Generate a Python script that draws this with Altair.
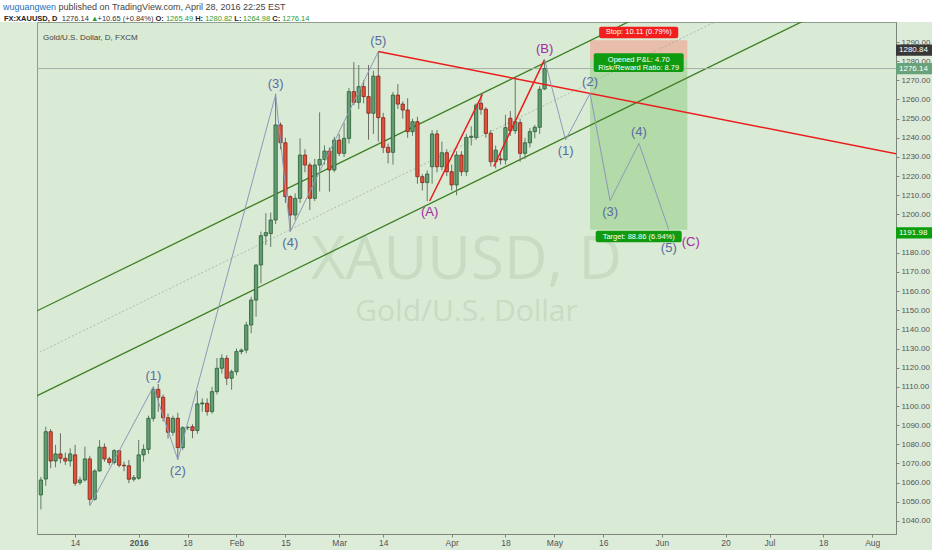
import altair as alt
import pandas as pd

FONT = "Liberation Sans"

# ---------------- daily FXCM bars, index 0 = Mon 14 Dec 2015 ----------------
bar_i = list(range(-7, 97))
bar_open = [1053.6, 1061.9, 1086.6, 1071.3, 1075.0, 1072.7, 1071.3,
            1074.5, 1060.0, 1061.4, 1072.4, 1051.3, 1066.1, 1078.5, 1072.4, 1070.5, 1076.7,
            1069.1, 1068.8, 1061.8, 1062.3, 1074.5, 1077.4, 1093.6, 1108.7, 1104.6, 1093.9,
            1086.3, 1093.6, 1078.3, 1088.7, 1089.2, 1087.2, 1101.1, 1101.4, 1097.1, 1107.5,
            1119.7, 1124.9, 1114.5, 1117.9, 1128.4, 1129.2, 1142.3, 1155.3, 1173.6, 1188.9,
            1190.0, 1197.1, 1246.7, 1237.4, 1209.3, 1199.7, 1208.4, 1231.0, 1225.8, 1208.4,
            1225.8, 1228.7, 1233.1, 1223.2, 1238.8, 1231.9, 1239.7, 1264.1, 1258.5, 1266.7,
            1261.5, 1252.8, 1272.2, 1250.5, 1235.0, 1232.4, 1262.3, 1257.6, 1254.5, 1243.2,
            1248.4, 1219.7, 1216.6, 1224.9, 1242.0, 1224.9, 1232.2, 1222.3, 1215.4, 1231.0,
            1222.3, 1240.2, 1240.2, 1258.0, 1254.9, 1242.3, 1227.5, 1229.0, 1228.4, 1250.2,
            1243.7, 1247.9, 1231.9, 1237.4, 1243.2, 1245.5, 1265.49]
bar_high = [1063.0, 1089.2, 1088.0, 1079.7, 1085.8, 1075.7, 1077.9,
            1079.7, 1063.1, 1078.8, 1074.0, 1067.0, 1082.3, 1080.5, 1073.5, 1077.5, 1077.1,
            1071.0, 1071.8, 1064.0, 1082.3, 1080.0, 1095.0, 1110.1, 1111.5, 1106.0, 1096.0,
            1095.0, 1096.5, 1089.5, 1089.5, 1090.5, 1108.0, 1104.0, 1104.0, 1110.0, 1125.0,
            1127.0, 1126.5, 1119.0, 1130.0, 1130.0, 1144.0, 1157.0, 1174.0, 1191.0, 1200.6,
            1201.0, 1263.0, 1248.0, 1240.0, 1210.0, 1211.0, 1239.7, 1234.0, 1227.0, 1229.0,
            1253.3, 1236.0, 1235.0, 1240.5, 1242.0, 1248.0, 1266.0, 1279.5, 1278.0, 1270.0,
            1278.0, 1275.0, 1284.9, 1253.0, 1237.0, 1264.0, 1268.0, 1259.0, 1260.6, 1250.0,
            1251.0, 1221.0, 1223.0, 1244.0, 1244.0, 1238.0, 1234.0, 1226.0, 1233.0, 1233.0,
            1242.0, 1246.0, 1258.0, 1262.7, 1256.0, 1244.0, 1236.0, 1233.0, 1252.0, 1254.0,
            1270.7, 1250.0, 1240.0, 1245.0, 1246.7, 1267.0, 1280.82]
bar_low = [1046.0, 1058.3, 1067.5, 1068.0, 1070.1, 1069.2, 1068.4,
           1058.3, 1058.8, 1060.5, 1048.4, 1050.6, 1065.8, 1071.0, 1069.0, 1069.5, 1068.0,
           1066.0, 1059.7, 1060.5, 1061.5, 1071.0, 1075.0, 1091.9, 1097.0, 1091.9, 1083.0,
           1084.5, 1072.0, 1077.1, 1087.5, 1083.2, 1085.5, 1097.0, 1095.0, 1096.0, 1106.0,
           1117.0, 1111.0, 1108.5, 1116.0, 1127.0, 1127.5, 1138.0, 1146.6, 1164.0, 1184.0,
           1183.0, 1195.0, 1234.0, 1206.0, 1191.0, 1197.0, 1206.0, 1222.0, 1202.3, 1207.0,
           1212.0, 1226.0, 1211.9, 1222.0, 1230.5, 1230.0, 1237.0, 1257.0, 1255.0, 1258.0,
           1239.0, 1242.0, 1238.0, 1232.0, 1226.6, 1226.0, 1255.0, 1250.0, 1240.0, 1241.0,
           1216.0, 1212.5, 1207.0, 1216.0, 1222.0, 1223.0, 1220.0, 1212.5, 1210.0, 1220.0,
           1220.0, 1236.0, 1239.0, 1252.0, 1240.0, 1225.0, 1224.0, 1226.0, 1226.0, 1241.0,
           1242.0, 1227.5, 1229.0, 1235.0, 1239.7, 1242.0, 1264.98]
bar_close = [1061.4, 1086.6, 1071.3, 1075.0, 1072.7, 1071.3, 1075.0,
             1059.7, 1061.4, 1072.4, 1051.3, 1066.1, 1078.5, 1072.4, 1070.5, 1076.7, 1069.1,
             1068.8, 1061.8, 1062.6, 1074.5, 1077.4, 1093.6, 1108.7, 1104.6, 1093.9, 1086.3,
             1093.6, 1078.3, 1088.7, 1088.9, 1087.2, 1101.1, 1101.6, 1097.1, 1107.5, 1119.7,
             1124.9, 1114.5, 1117.9, 1128.4, 1129.2, 1142.3, 1155.3, 1173.6, 1188.9, 1190.5,
             1197.1, 1246.7, 1237.4, 1209.3, 1199.7, 1208.4, 1231.0, 1225.8, 1208.4, 1225.8,
             1228.7, 1233.1, 1223.2, 1238.8, 1231.9, 1239.7, 1264.1, 1258.5, 1266.7, 1261.5,
             1252.8, 1272.2, 1250.5, 1235.0, 1232.4, 1262.3, 1257.6, 1254.5, 1243.2, 1248.4,
             1219.7, 1216.6, 1221.1, 1242.0, 1224.9, 1232.2, 1222.3, 1215.4, 1231.0, 1222.3,
             1240.2, 1240.8, 1257.1, 1254.9, 1242.3, 1227.5, 1233.6, 1228.5, 1245.3, 1243.7,
             1248.4, 1231.9, 1237.4, 1243.2, 1245.5, 1265.3, 1276.14]
prev_close = 1265.49

# date axis: bar index -> label
tick_i = [0, 13, 23, 33, 43, 54, 63, 77, 88, 98, 108, 120, 133, 142, 153, 163]
tick_txt = ["14", "2016", "18", "Feb", "15", "Mar", "14", "Apr", "18", "May",
            "16", "Jun", "20", "Jul", "18", "Aug"]
price_ticks = list(range(1040, 1300, 10))

# parallel channel (lower rail, upper rail, median) as end points
chan_i = [-8, 150]
chan_lower = [1105.1, 1302.3]
chan_upper = [1149.4, 1346.5]
chan_mid = [1127.2, 1324.4]

# descending resistance from the March high
res_i = [62, 170]
res_p = [1285.0, 1230.6]

# A-B legs
ab_i = [[72.5, 83.3], [85.6, 96.0]]
ab_p = [[1207.0, 1262.7], [1225.0, 1280.82]]

# impulse count Dec-Mar
wave_i = [3, 16, 21, 41, 44, 62]
wave_p = [1047.8, 1110.1, 1072.0, 1262.5, 1191.0, 1285.0]
wave_lbl = ["", "(1)", "(2)", "(3)", "(4)", "(5)"]
wave_up = [False, True, False, True, False, True]

# projected wave C (last point carries its own label below)
proj_i = [96, 100.3, 105.3, 109.4, 115.3, 121.4]
proj_p = [1280.82, 1238.9, 1263.2, 1207.2, 1237.1, 1191.98]
proj_lbl = ["(B)", "(1)", "(2)", "(3)", "(4)", ""]
proj_up = [True, False, True, False, True, False]

# corrective labels A and C, and the fifth of C
abc_i = [72.5, 121.4]
abc_p = [1207.0, 1191.98]
abc_lbl = ["(A)", "(C)"]
fifth_lbl = "(5)"

# short position
entry = 1280.84
stop = 1290.95
target = 1191.98
last = 1276.14
pos_i = [105.3, 125.2]

# ---------------- geometry ----------------
W, H = 859, 512
X_LO, X_HI = -6.77, 166.84
Y_LO, Y_HI = 1033.2, 1300.44
PPX = (X_HI - X_LO) / W   # index units per pixel
PPY = (Y_HI - Y_LO) / H   # price units per pixel

XS = alt.Scale(domain=[X_LO, X_HI], nice=False, zero=False)
YS = alt.Scale(domain=[Y_LO, Y_HI], nice=False, zero=False)

lbl_expr = "[" + ",".join("'%s'" % t for t in tick_txt) + "][indexof([" + \
    ",".join(str(v) for v in tick_i) + "], datum.value)]"

X_AXIS = alt.Axis(values=tick_i, labelExpr=lbl_expr, title=None, grid=False,
                  labelFont=FONT, labelFontSize=8.5, labelColor="#555555",
                  labelFontWeight=alt.ConditionalAxisLabelFontWeight(
                      condition={"test": "datum.value == 13", "value": "bold"}, value="normal"),
                  tickColor="#7d857d", tickSize=3, domainColor="#7d857d",
                  labelPadding=1, labelOverlap=False, labelFlush=False)
# the 1190 label sits under the target price tag
Y_AXIS = alt.Axis(orient="right", values=price_ticks, title=None, grid=False,
                  labelExpr="datum.value == 1190 ? '' : format(datum.value, '.2f')",
                  labelFont=FONT, labelFontSize=8, labelColor="#555555",
                  tickColor="#7d857d", tickSize=3, domainColor="#7d857d",
                  labelPadding=2, labelOverlap=False, labelFlush=False)


def X(f="i"):
    return alt.X(f"{f}:Q", scale=XS, axis=X_AXIS)


def Y(f="p"):
    return alt.Y(f"{f}:Q", scale=YS, axis=Y_AXIS)


bars = pd.DataFrame(dict(i=bar_i, o=bar_open, h=bar_high, l=bar_low, c=bar_close))
up_bars = bars[bars.c >= bars.o]
dn_bars = bars[bars.c < bars.o]

one = pd.DataFrame({"k": [0]})

# ---------------- layers ----------------
# position zones
risk_box = alt.Chart(pd.DataFrame({"i": [pos_i[0]], "i2": [pos_i[1]], "p": [entry], "p2": [stop]})
                     ).mark_rect(color="#e8bda9").encode(x=X(), x2="i2:Q", y=Y(), y2="p2:Q")
reward_box = alt.Chart(pd.DataFrame({"i": [pos_i[0]], "i2": [pos_i[1]], "p": [target], "p2": [entry]})
                       ).mark_rect(color="#b3dba9").encode(x=X(), x2="i2:Q", y=Y(), y2="p2:Q")

# watermark
wm1 = alt.Chart(one).mark_text(text="XAUUSD, D", font="Open Sans", fontSize=60,
                               color="#c8dcc4", baseline="middle").encode(
    x=alt.value(W / 2), y=alt.value(H / 2 - 17))
wm2 = alt.Chart(one).mark_text(text="Gold/U.S. Dollar", font="Open Sans", fontSize=30,
                               color="#c8dcc4", baseline="middle").encode(
    x=alt.value(W / 2), y=alt.value(H / 2 + 34))

# channel
chan = pd.DataFrame({
    "i": chan_i * 3, "p": chan_lower + chan_upper + chan_mid,
    "g": ["lo", "lo", "up", "up", "mid", "mid"]})
chan_rails = alt.Chart(chan[chan.g != "mid"]).mark_line(
    color="#3f7f24", strokeWidth=1.3, clip=True).encode(x=X(), y=Y(), detail="g:N")
chan_median = alt.Chart(chan[chan.g == "mid"]).mark_line(
    color="#a3ada3", strokeWidth=0.8, strokeDash=[2, 2], clip=True).encode(x=X(), y=Y())

# last-price line
price_line = alt.Chart(pd.DataFrame({"p": [last]})).mark_rule(
    color="#a6b0a6", strokeWidth=1).encode(y=Y())


# candles
def candle_layers(df, body, edge, wick):
    w = alt.Chart(df).mark_rule(strokeWidth=1, color=wick, clip=True).encode(
        x=X(), y=Y("l"), y2="h:Q")
    b = alt.Chart(df).mark_bar(size=3.3, strokeWidth=0.8, color=body, stroke=edge,
                               clip=True).encode(x=X(), y=Y("o"), y2="c:Q")
    return [w, b]


candles = candle_layers(up_bars, "#5f9f72", "#2c5a36", "#607d66") + \
    candle_layers(dn_bars, "#e2503c", "#7a2418", "#6f6c64")

# resistance + A-B legs
red_df = pd.DataFrame({
    "i": res_i + ab_i[0] + ab_i[1], "p": res_p + ab_p[0] + ab_p[1],
    "g": ["r", "r", "a", "a", "b", "b"]})
red_lines = alt.Chart(red_df).mark_line(color="#ec1c1c", strokeWidth=1.5, clip=True).encode(
    x=X(), y=Y(), detail="g:N")

# wave paths
wave_df = pd.DataFrame({"i": wave_i, "p": wave_p, "g": "w"})
proj_df = pd.DataFrame({"i": proj_i, "p": proj_p, "g": "pr"})
waves = alt.Chart(pd.concat([wave_df, proj_df])).mark_line(
    color="#8e98b8", strokeWidth=1, clip=True).encode(x=X(), y=Y(), detail="g:N")

NUM_COL = "#5a6aa2"
ABC_COL = "#a32aa0"
lbl = pd.DataFrame({"i": wave_i + proj_i, "p": wave_p + proj_p, "t": wave_lbl + proj_lbl,
                    "up": wave_up + proj_up})
lbl = lbl[lbl.t != ""]
num = lbl[lbl.t != "(B)"]
lbl_layers = [
    alt.Chart(num[num.up]).mark_text(font=FONT, fontSize=13, dy=-11, color=NUM_COL).encode(
        x=X(), y=Y(), text="t:N"),
    alt.Chart(num[~num.up]).mark_text(font=FONT, fontSize=13, dy=11, color=NUM_COL).encode(
        x=X(), y=Y(), text="t:N"),
    alt.Chart(pd.DataFrame({"i": proj_i[-1:], "p": proj_p[-1:], "t": [fifth_lbl]})).mark_text(
        font=FONT, fontSize=13, dy=18, color=NUM_COL).encode(x=X(), y=Y(), text="t:N"),
    alt.Chart(lbl[lbl.t == "(B)"]).mark_text(font=FONT, fontSize=13, dy=-11, color=ABC_COL).encode(
        x=X(), y=Y(), text="t:N"),
    alt.Chart(pd.DataFrame({"i": abc_i[:1], "p": abc_p[:1], "t": abc_lbl[:1]})).mark_text(
        font=FONT, fontSize=13, dy=11, color=ABC_COL).encode(x=X(), y=Y(), text="t:N"),
    alt.Chart(pd.DataFrame({"i": abc_i[1:], "p": abc_p[1:], "t": abc_lbl[1:]})).mark_text(
        font=FONT, fontSize=13, dy=12, dx=22, color=ABC_COL).encode(x=X(), y=Y(), text="t:N"),
]

# position labels
mid_i = (pos_i[0] + pos_i[1]) / 2
stop_txt = "Stop: %.2f (%.2f%%)" % (stop - entry, (stop - entry) / entry * 100)
tgt_txt = "Target: %.2f (%.2f%%)" % (entry - target, (entry - target) / entry * 100)
pnl_txt = "Opened P&L: %.2f" % (entry - last)
rr_txt = "Risk/Reward Ratio: %.2f" % ((entry - target) / (stop - entry))


def tag_box(ci, half_w, p_top, p_bot, color):
    df = pd.DataFrame({"i": [ci - half_w * PPX], "i2": [ci + half_w * PPX],
                       "p": [p_top], "p2": [p_bot]})
    return alt.Chart(df).mark_rect(cornerRadius=2, color=color).encode(
        x=X(), x2="i2:Q", y=Y(), y2="p2:Q")


tag_layers = [
    tag_box(mid_i, 40, stop + 13.5 * PPY, stop + 2 * PPY, "#f21d1d"),
    tag_box(mid_i, 45.5, entry - 12.5 * PPY, entry + 6.2 * PPY, "#109a10"),
    tag_box(mid_i, 43.5, target - 1 * PPY, target - 12.5 * PPY, "#109a10"),
]
tag_txt = pd.DataFrame({
    "i": [mid_i] * 4,
    "p": [stop + 7.7 * PPY, entry - 0.6 * PPY, entry - 8.8 * PPY, target - 6.8 * PPY],
    "t": [stop_txt, pnl_txt, rr_txt, tgt_txt]})
tag_text = alt.Chart(tag_txt).mark_text(font=FONT, fontSize=7.5, color="white",
                                        baseline="middle").encode(x=X(), y=Y(), text="t:N")


# price tags on the right scale
def price_tag(price, shift_px, color):
    d = pd.DataFrame({"p": [price - shift_px * PPY + 5.6 * PPY],
                      "p2": [price - shift_px * PPY - 5.6 * PPY],
                      "pm": [price - shift_px * PPY], "t": ["%.2f" % price]})
    r = alt.Chart(d).mark_rect(color=color).encode(
        x=alt.value(W), x2=alt.value(W + 36), y=Y(), y2="p2:Q")
    t = alt.Chart(d).mark_text(font=FONT, fontSize=8, color="white", align="left",
                               baseline="middle").encode(
        x=alt.value(W + 3), y=Y("pm"), text="t:N")
    return [r, t]


ptags = price_tag(entry, -9.5, "#383838") + price_tag(last, 0, "#66a27a") + \
    price_tag(target, 3, "#0c9e0c")

# header
hdr_band = alt.Chart(one).mark_rect(color="white").encode(
    x=alt.value(-37), x2=alt.value(W + 36), y=alt.value(-22), y2=alt.value(0))

# Arial/Liberation advance widths (em) for laying out header runs
_w = {" ": .278, "%": .889, "(": .333, ")": .333, "+": .584, ",": .278, "-": .333,
      ".": .278, "/": .278, ":": .278, "A": .667, "C": .722, "D": .722, "E": .667,
      "F": .611, "H": .722, "L": .556, "M": .833, "O": .778, "S": .667, "T": .611,
      "U": .722, "V": .667, "X": .667, "a": .556, "b": .556, "c": .5, "d": .556, "e": .556,
      "g": .556, "h": .556, "i": .222, "l": .222, "m": .833, "n": .556, "o": .556,
      "p": .556, "r": .333, "s": .5, "t": .278, "u": .556, "w": .722, "y": .5,
      "\u25B2": .6}


def text_w(s, size, bold=False):
    return sum(_w.get(ch, .556) * (1.06 if bold else 1.0) for ch in s) * size


def run_line(parts, x0, y, size):
    out = []
    x = x0
    for s, color, bold in parts:
        out.append(alt.Chart(one).mark_text(
            text=s, font=FONT, fontSize=size, align="left", baseline="alphabetic",
            color=color, fontWeight="bold" if bold else "normal").encode(
            x=alt.value(x - 37), y=alt.value(y - 22)))
        x += text_w(s, size, bold) + 0.278 * size
    return out


green = "#2e9a2e"
dark = "#333333"
chg = last - prev_close
hdr = run_line([("wuguangwen", "#2470c0", False),
                ("published on TradingView.com, April 28, 2016 22:25 EST", "#444444", False)],
               3, 10, 9)
hdr += run_line([("FX:XAUUSD, D", "#222222", True), ("%.2f" % last, dark, False),
                 ("\u25B2", green, False),
                 ("+%.2f (+%.2f%%)" % (chg, chg / prev_close * 100), dark, False),
                 ("O:", "#222222", True), ("%.2f" % bar_open[-1], green, False),
                 ("H:", "#222222", True), ("%.2f" % bar_high[-1], green, False),
                 ("L:", "#222222", True), ("%.2f" % bar_low[-1], green, False),
                 ("C:", "#222222", True), ("%.2f" % bar_close[-1], green, False)],
                4, 20.5, 7.5)
hdr += run_line([("Gold/U.S. Dollar, D, FXCM", "#444444", False)], 43, 40, 8)

chart = alt.layer(
    risk_box, reward_box, wm1, wm2, chan_median, chan_rails, price_line, *candles,
    red_lines, waves, *lbl_layers, *tag_layers, tag_text, *ptags, hdr_band, *hdr
).properties(
    width=W, height=H,
    padding={"left": 37, "top": 22, "right": 36, "bottom": 16},
    autosize=alt.AutoSizeParams(type="none"),
    background="#dcecd8"
).configure_view(fill="#d9ebd5", stroke="#8f9c8f", strokeWidth=1)

chart.save("out.html", embed_options={"renderer": "svg", "actions": False})
